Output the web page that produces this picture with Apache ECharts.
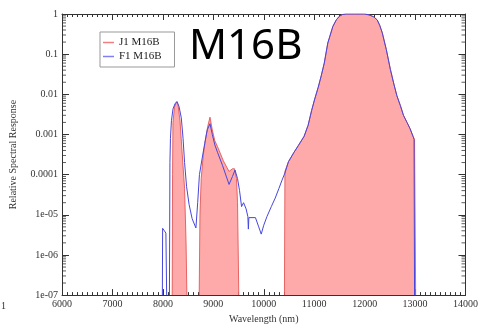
<!DOCTYPE html>
<html><head><meta charset="utf-8">
<script src="https://cdn.jsdelivr.net/npm/echarts@6/dist/echarts.min.js"></script>
<style>html,body{margin:0;padding:0;background:#fff}#c{width:481px;height:329px}</style>
</head><body><div id="c"></div>
<script>
// ---- data ----
const blueWavelength = [7990, 7995, 8030, 8060, 8075, 8100, 8130, 8140, 8150, 8170, 8200, 8240, 8280, 8320, 8365, 8400, 8430, 8470, 8520, 8580, 8655, 8690, 8725, 8790, 8830, 8880, 8934, 8980, 9030, 9083, 9182, 9312, 9380, 9430, 9480, 9520, 9560, 9600, 9650, 9685, 9695, 9705, 9740, 9835, 9900, 9950, 10000, 10063, 10150, 10227, 10300, 10357, 10420, 10490, 10600, 10690, 10800, 10880, 10950, 11010, 11080, 11140, 11200, 11270, 11370, 11440, 11500, 11560, 11630, 11800, 12000, 12090, 12180, 12250, 12300, 12350, 12430, 12510, 12580, 12640, 12710, 12770, 12840, 12900, 12960, 12980, 12990];
const blueResponse = [1e-7, 4.6e-6, 4.0e-6, 3.5e-6, 1e-7, null, 1e-7, 2e-4, 8e-4, 2.2e-3, 4.3e-3, 5.8e-3, 6.6e-3, 5e-3, 2.6e-3, 8e-4, 2e-4, 5e-5, 1.8e-5, 8e-6, 4.7e-6, 2e-5, 1e-4, 3.1e-4, 6e-4, 1.3e-3, 1.85e-3, 1e-3, 5.5e-4, 3.6e-4, 1.7e-4, 5.7e-5, 9e-5, 1.3e-4, 8e-5, 4e-5, 1.6e-5, 2e-5, 1.4e-5, 9e-6, 4.4e-6, 8.5e-6, 9e-6, 8.5e-6, 5e-6, 3.3e-6, 5.5e-6, 9e-6, 1.6e-5, 2.6e-5, 4.5e-5, 7e-5, 1.1e-4, 2.1e-4, 3.6e-4, 5.4e-4, 9e-4, 1.7e-3, 4e-3, 7.6e-3, 1.5e-2, 2.9e-2, 6e-2, 0.19, 0.49, 0.72, 0.88, 0.97, 1.0, 1.0, 1.0, 0.95, 0.85, 0.71, 0.52, 0.34, 0.13, 0.042, 0.018, 0.0092, 0.0052, 0.003, 0.002, 0.0014, 9e-4, 7.5e-4, 1e-7];
const redWavelength = [8185, 8192, 8200, 8230, 8270, 8300, 8340, 8385, 8430, 8460, 8476, 8600, 8720, 8735, 8760, 8800, 8840, 8890, 8934, 8980, 9030, 9083, 9200, 9312, 9380, 9420, 9460, 9480, 9495, 9505, 10000, 10410, 10420, 10490, 10600, 10690, 10800, 10880, 10950, 11010, 11080, 11140, 11200, 11270, 11370, 11440, 11500, 11560, 11630, 11800, 12000, 12090, 12180, 12250, 12300, 12350, 12430, 12510, 12580, 12640, 12710, 12770, 12840, 12900, 12960, 12990, 13000, 13012];
const redResponse = [1e-7, 1e-4, 2e-3, 4.8e-3, 6.5e-3, 5.5e-3, 2.2e-3, 3.1e-4, 4.6e-5, 2e-6, 1e-7, null, 1e-7, 1e-5, 8e-5, 3e-4, 7e-4, 1.6e-3, 2.7e-3, 1.3e-3, 7e-4, 5e-4, 2.2e-4, 1.2e-4, 1.4e-4, 1.4e-4, 8e-5, 2e-5, 1e-6, 1e-7, null, 1e-7, 1.2e-4, 2.1e-4, 3.6e-4, 5.4e-4, 9e-4, 1.7e-3, 4e-3, 7.6e-3, 1.5e-2, 2.9e-2, 6e-2, 0.19, 0.49, 0.72, 0.88, 0.97, 1.0, 1.0, 1.0, 0.95, 0.85, 0.71, 0.52, 0.34, 0.13, 0.042, 0.018, 0.0092, 0.0052, 0.003, 0.002, 0.0014, 9e-4, 7.5e-4, 7e-4, 1e-7];
const xTickLabels = ['6000', '7000', '8000', '9000', '10000', '11000', '12000', '13000', '14000'];
const yTickLabels = ['1e-07', '1e-06', '1e-05', '0.0001', '0.001', '0.01', '0.1', '1'];
const seriesNames = ['J1 M16B', 'F1 M16B'];
const titleText = 'M16B';
const xAxisTitle = 'Wavelength (nm)';
const yAxisTitle = 'Relative Spectral Response';

// ---- layout / style ----
const xMin = 6000, xMax = 14000, yMin = 1e-7, yMax = 1;
const serif = 'Liberation Serif';
const axisCol = '#333';
const labCol = '#333';

const zip = (a, b) => a.map((v, i) => [v, b[i]]);
// log minor tick positions (2..9 x each decade), drawn as tiny marks on both y axes
const yMinorVals = [];
for (let k = -7; k < 0; k++) for (let m = 2; m <= 9; m++) yMinorVals.push(m * Math.pow(10, k));

const chart = echarts.init(document.getElementById('c'), null, {renderer: 'canvas'});
const baseX = {
  type: 'value', min: xMin, max: xMax, interval: 1000,
  axisLine: {show: true, lineStyle: {color: axisCol, width: 1}},
  axisTick: {show: true, inside: true, length: 6, lineStyle: {color: axisCol}},
  minorTick: {show: true, splitNumber: 10, length: 3, lineStyle: {color: axisCol}},
  splitLine: {show: false}, minorSplitLine: {show: false}
};
const baseY = {
  type: 'log', logBase: 10, min: yMin, max: yMax, splitNumber: 7,
  axisLine: {show: true, lineStyle: {color: axisCol, width: 1}},
  axisTick: {show: true, inside: true, length: 7, lineStyle: {color: axisCol}},
  splitLine: {show: false}
};
const tickMarks = (xv, off) => ({
  type: 'scatter', data: yMinorVals.map(v => [xv, v]), silent: true, clip: false, z: 5,
  symbol: 'rect', symbolSize: [4, 1], symbolOffset: [off, 0],
  itemStyle: {color: axisCol}, emphasis: {disabled: true}, tooltip: {show: false}
});
chart.setOption({
  animation: false,
  backgroundColor: '#fff',
  grid: {left: 61, right: 12, top: 14, bottom: 31},
  xAxis: [
    Object.assign({}, baseX, {
      position: 'bottom',
      name: xAxisTitle, nameLocation: 'middle', nameGap: 17,
      nameTextStyle: {fontFamily: serif, fontSize: 10, color: labCol},
      axisLabel: {fontFamily: serif, fontSize: 10, color: labCol, margin: 4,
        formatter: v => xTickLabels[Math.round((v - xMin) / 1000)]}
    }),
    Object.assign({}, baseX, {position: 'top', axisLabel: {show: false}})
  ],
  yAxis: [
    Object.assign({}, baseY, {
      position: 'left',
      name: yAxisTitle, nameLocation: 'middle', nameGap: 44, nameRotate: 90,
      nameTextStyle: {fontFamily: serif, fontSize: 10, color: labCol},
      axisLabel: {fontFamily: serif, fontSize: 10, color: labCol, margin: 4,
        formatter: v => yTickLabels[Math.round(Math.log10(v)) + 7]}
    }),
    Object.assign({}, baseY, {position: 'right', axisLabel: {show: false}})
  ],
  legend: {
    orient: 'vertical', left: 100, top: 32,
    data: [
      {name: seriesNames[0], itemStyle: {color: '#f08080'}},
      {name: seriesNames[1], itemStyle: {color: '#8080f0'}}
    ],
    icon: 'rect', itemWidth: 11, itemHeight: 1.5, itemGap: 3,
    padding: [5, 13, 5, 3],
    borderColor: '#999', borderWidth: 1,
    textStyle: {fontFamily: serif, fontSize: 11, color: '#222'}
  },
  graphic: [
    {type: 'text', left: 189, top: 26, style: {text: titleText, font: '42px "Noto Sans"', fill: '#000'}},
    {type: 'text', left: 1, top: 301, style: {text: '1', font: '10px "Liberation Serif"', fill: labCol}}
  ],
  series: [
    {
      name: seriesNames[0], type: 'line', data: zip(redWavelength, redResponse),
      showSymbol: false, connectNulls: false, z: 2,
      lineStyle: {color: '#e04848', width: 0.8},
      itemStyle: {color: '#f08080'},
      areaStyle: {color: '#ffaaaa', opacity: 1}
    },
    {
      name: seriesNames[1], type: 'line', data: zip(blueWavelength, blueResponse),
      showSymbol: false, connectNulls: false, z: 3,
      lineStyle: {color: '#4646dc', width: 1},
      itemStyle: {color: '#8080f0'}
    },
    tickMarks(xMin, 2),
    tickMarks(xMax, -2)
  ]
});
</script></body></html>
